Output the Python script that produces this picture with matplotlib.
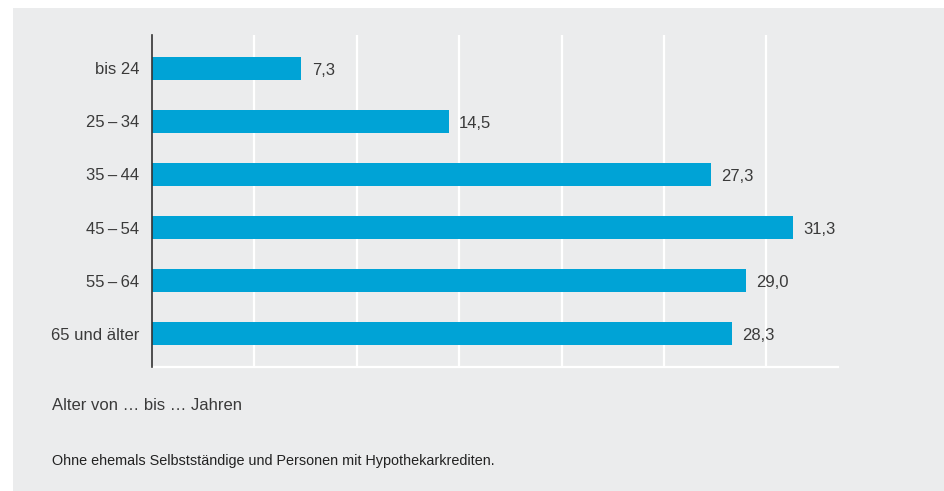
import matplotlib
matplotlib.use('Agg')
from matplotlib import pyplot as plt
from matplotlib.patches import Rectangle

categories = ['bis 24', '25\u2009\u2013\u200934', '35\u2009\u2013\u200944', '45\u2009\u2013\u200954',
              '55\u2009\u2013\u200964', '65 und älter']
values = [7.3, 14.5, 27.3, 31.3, 29.0, 28.3]
value_labels = ['7,3', '14,5', '27,3', '31,3', '29,0', '28,3']
xticks = [5, 10, 15, 20, 25, 30]

plt.rcParams['font.family'] = ['Liberation Sans', 'DejaVu Sans']
bg = '#ebeced'
bar_color = '#00a3d6'
text_color = '#3a3a3a'

fig = plt.figure(figsize=(9.44, 4.91), dpi=100)
fig.patch.set_facecolor('white')
fig.patches.append(Rectangle((13 / 944, 0), 1 - 13 / 944, 1 - 8 / 491,
                             transform=fig.transFigure, facecolor=bg,
                             edgecolor='none', zorder=-10))

ax = fig.add_axes([152 / 944, 1 - 367 / 491, (838 - 152) / 944, (367 - 35) / 491])
ax.set_facecolor(bg)

y = list(range(len(categories)))
ax.barh(y, values, height=0.43, color=bar_color, zorder=3)
for yi, v, lab in zip(y, values, value_labels):
    ax.text(v + 0.5, yi + 0.03, lab, va='center', ha='left', fontsize=12, color=text_color)

ax.set_xlim(0, 33.5)
ax.set_ylim(len(categories) - 0.37, -0.63)
ax.set_yticks(y)
ax.set_yticklabels(categories, fontsize=12, color=text_color)
ax.tick_params(axis='y', length=0, pad=9)
ax.set_xticks(xticks)
ax.tick_params(axis='x', length=0, labelbottom=False)
ax.grid(axis='x', color='white', linewidth=1.6, zorder=1)

for s in ['top', 'right']:
    ax.spines[s].set_visible(False)
ax.spines['bottom'].set_color('white')
ax.spines['bottom'].set_linewidth(1.6)
ax.spines['left'].set_color('#333333')
ax.spines['left'].set_linewidth(1.2)
ax.spines['left'].set_zorder(5)

fig.text(52 / 944, 1 - 405 / 491, 'Alter von \u2026 bis \u2026 Jahren', fontsize=12,
         color=text_color, va='center', ha='left')
fig.text(52 / 944, 1 - 461 / 491, 'Ohne ehemals Selbstständige und Personen mit Hypothekarkrediten.',
         fontsize=10.4, color='#222222', va='center', ha='left')

plt.savefig('out.png', dpi=100, facecolor=fig.get_facecolor())
